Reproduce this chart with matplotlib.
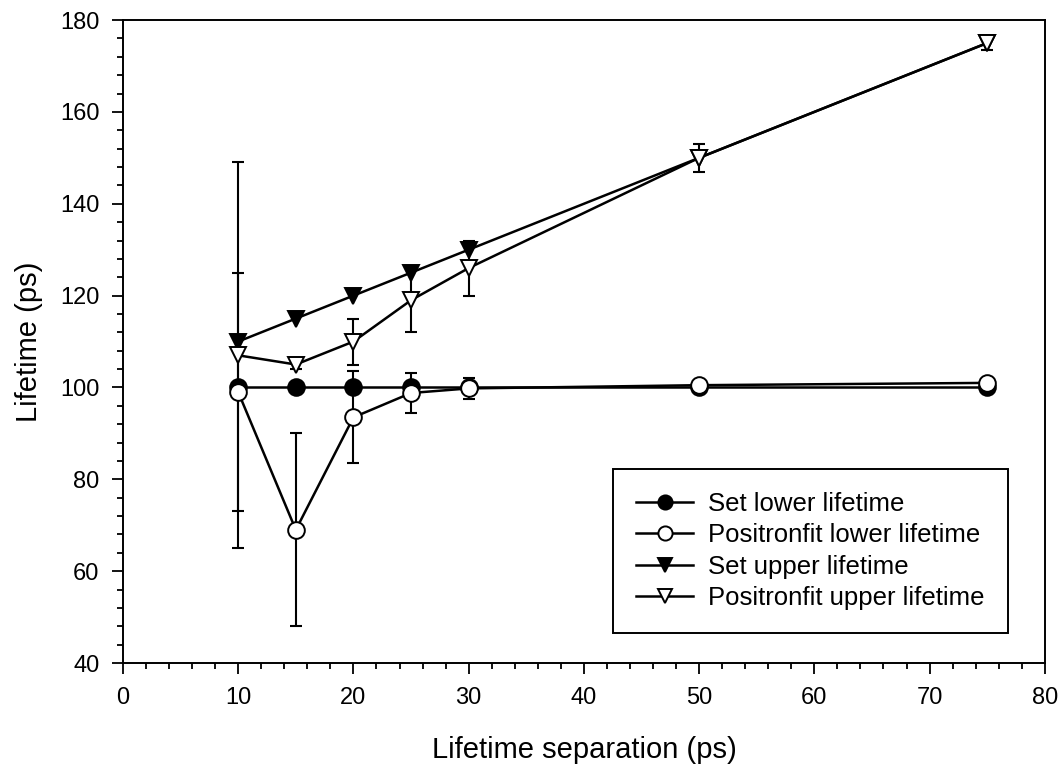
import matplotlib.pyplot as plt
from matplotlib.ticker import MultipleLocator

plt.rcParams['font.family'] = ['Liberation Sans', 'DejaVu Sans']

# Datos
separacion = [10, 15, 20, 25, 30, 50, 75]
set_inferior = [100, 100, 100, 100, 100, 100, 100]
fit_inferior = [99, 69, 93.5, 98.8, 99.8, 100.5, 101]
err_fit_inferior = [26, 21, 10, 4.4, 2.3, 0.8, 0.5]
set_superior = [110, 115, 120, 125, 130, 150, 175]
fit_superior = [107, 105, 110, 119, 126, 150, 175]
err_fit_superior = [42, 1, 5, 7, 6, 3, 1.5]

fig = plt.figure(figsize=(10.62, 7.71), dpi=100)
ax = fig.add_axes([0.1158, 0.140, 0.868, 0.834])

# barras de error
ekw = dict(fmt="none", ecolor="black", elinewidth=1.5, capsize=4.5, capthick=1.5)
ax.errorbar(separacion, fit_inferior, yerr=err_fit_inferior, **ekw)
ax.errorbar(separacion, fit_superior, yerr=err_fit_superior, **ekw)

# series
kw = dict(color="black", lw=1.8, ms=12, mew=1.4)
ax.plot(separacion, set_inferior, marker="o", mfc="black", label="Set lower lifetime", **kw)
ax.plot(separacion, fit_inferior, marker="o", mfc="white", label="Positronfit lower lifetime", **kw)
ax.plot(separacion, set_superior, marker="v", mfc="black", label="Set upper lifetime", **kw)
ax.plot(separacion, fit_superior, marker="v", mfc="white", label="Positronfit upper lifetime", **kw)

ax.set_xlim(0, 80)
ax.set_ylim(40, 180)
ax.xaxis.set_major_locator(MultipleLocator(10))
ax.xaxis.set_minor_locator(MultipleLocator(2))
ax.yaxis.set_major_locator(MultipleLocator(20))
ax.yaxis.set_minor_locator(MultipleLocator(4))
ax.tick_params(which="both", direction="out", width=1.3, labelsize=17)
ax.tick_params(which="major", length=8, pad=9)
ax.tick_params(which="minor", length=4.5)
for s in ax.spines.values():
    s.set_linewidth(1.4)

ax.set_xlabel("Lifetime separation (ps)", fontsize=21, labelpad=20)
ax.set_ylabel("Lifetime (ps)", fontsize=21, labelpad=12)

leg = ax.legend(loc="lower right", bbox_to_anchor=(0.960, 0.047), borderaxespad=0,
                fontsize=18.5, fancybox=False, edgecolor="black", framealpha=1,
                handlelength=2.2, handletextpad=0.6, borderpad=0.9, labelspacing=0.28,
                markerscale=0.85)
leg.get_frame().set_linewidth(1.4)

plt.savefig("out.png", dpi=100)
